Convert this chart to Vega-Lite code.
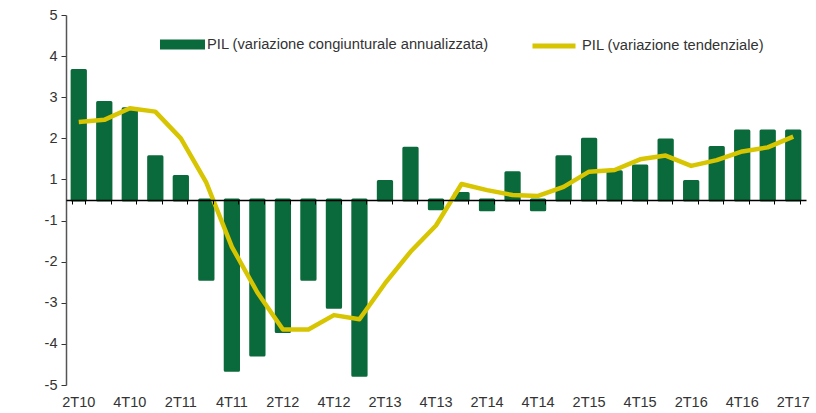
{
  "$schema": "https://vega.github.io/schema/vega-lite/v6.json",
  "width": 740,
  "height": 370,
  "autosize": {"type": "none"},
  "padding": {"left": 66, "top": 15, "right": 10, "bottom": 28},
  "background": "white",
  "config": {
    "view": {"stroke": null},
    "font": "Liberation Sans",
    "axis": {"labelFont": "Liberation Sans", "labelFontSize": 14.5, "labelColor": "#333333", "grid": false, "title": null},
    "legend": {"labelFont": "Liberation Sans", "labelFontSize": 14.7, "labelColor": "#333333", "labelLimit": 0}
  },
  "data": {
    "values": [
      {"q": "2T10", "cong": 3.15, "tend": 1.90},
      {"q": "3T10", "cong": 2.37, "tend": 1.95},
      {"q": "4T10", "cong": 2.22, "tend": 2.23},
      {"q": "1T11", "cong": 1.05, "tend": 2.15},
      {"q": "2T11", "cong": 0.57, "tend": 1.50},
      {"q": "3T11", "cong": -1.93, "tend": 0.42},
      {"q": "4T11", "cong": -4.14, "tend": -1.14},
      {"q": "1T12", "cong": -3.77, "tend": -2.25},
      {"q": "2T12", "cong": -3.20, "tend": -3.15},
      {"q": "3T12", "cong": -1.93, "tend": -3.15},
      {"q": "4T12", "cong": -2.61, "tend": -2.80},
      {"q": "1T13", "cong": -4.26, "tend": -2.90},
      {"q": "2T13", "cong": 0.45, "tend": -2.03},
      {"q": "3T13", "cong": 1.26, "tend": -1.26},
      {"q": "4T13", "cong": -0.21, "tend": -0.62},
      {"q": "1T14", "cong": 0.16, "tend": 0.39},
      {"q": "2T14", "cong": -0.24, "tend": 0.24},
      {"q": "3T14", "cong": 0.66, "tend": 0.12},
      {"q": "4T14", "cong": -0.24, "tend": 0.10},
      {"q": "1T15", "cong": 1.05, "tend": 0.32},
      {"q": "2T15", "cong": 1.48, "tend": 0.69},
      {"q": "3T15", "cong": 0.69, "tend": 0.73},
      {"q": "4T15", "cong": 0.83, "tend": 0.99},
      {"q": "1T16", "cong": 1.46, "tend": 1.08},
      {"q": "2T16", "cong": 0.45, "tend": 0.83},
      {"q": "3T16", "cong": 1.28, "tend": 0.97},
      {"q": "4T16", "cong": 1.68, "tend": 1.18},
      {"q": "1T17", "cong": 1.68, "tend": 1.28},
      {"q": "2T17", "cong": 1.68, "tend": 1.54}
    ]
  },
  "layer": [
    {
      "mark": {"type": "bar", "stroke": "#0b6a3b", "strokeWidth": 3, "strokeJoin": "round"},
      "encoding": {
        "x": {
          "field": "q", "type": "nominal", "sort": null,
          "scale": {"paddingInner": 0.48, "paddingOuter": 0.24},
          "axis": {"orient": "bottom", "offset": -185, "labels": false, "domain": true, "domainColor": "#000000", "domainWidth": 1.5, "ticks": true, "tickBand": "extent", "tickSize": 4, "tickColor": "#000000", "tickWidth": 1, "zindex": 1, "title": null}
        },
        "y": {
          "field": "cong", "type": "quantitative",
          "scale": {"domain": [-4.5, 4.5], "nice": false, "zero": false},
          "axis": {"values": [-4.5, -3.5, -2.5, -1.5, -0.5, 0.5, 1.5, 2.5, 3.5, 4.5], "labelExpr": "datum.value > 0 ? '' + (datum.value + 0.5) : '' + (datum.value - 0.5)", "domainColor": "#555555", "domainWidth": 1.5, "tickColor": "#333333", "tickSize": 5, "labelPadding": 4, "title": null}
        },
        "y2": {"datum": 0},
        "fill": {
          "datum": "PIL (variazione congiunturale annualizzata)",
          "scale": {"range": ["#0b6a3b"]},
          "legend": {"orient": "none", "legendX": 94, "legendY": 7, "padding": 0, "symbolType": "M-1,-0.22H1V0.22H-1Z", "symbolSize": 2025, "symbolStrokeWidth": 0, "labelOffset": 2, "title": null}
        }
      }
    },
    {
      "mark": {"type": "line", "strokeWidth": 4.5, "strokeJoin": "round"},
      "encoding": {
        "x": {
          "field": "q", "type": "nominal", "sort": null,
          "axis": {"orient": "bottom", "values": ["2T10","4T10","2T11","4T11","2T12","4T12","2T13","4T13","2T14","4T14","2T15","4T15","2T16","4T16","2T17"], "domain": false, "ticks": false, "labelAngle": 0, "labelPadding": 10, "title": null}
        },
        "y": {"field": "tend", "type": "quantitative"},
        "stroke": {
          "datum": "PIL (variazione tendenziale)",
          "scale": {"range": ["#d6c500"]},
          "legend": {"orient": "none", "legendX": 464, "legendY": 7, "padding": 0, "symbolType": "M-1,0H1", "symbolSize": 1849, "symbolStrokeWidth": 5, "labelOffset": 4, "title": null}
        }
      }
    }
  ],
  "resolve": {"axis": {"x": "independent"}}
}
